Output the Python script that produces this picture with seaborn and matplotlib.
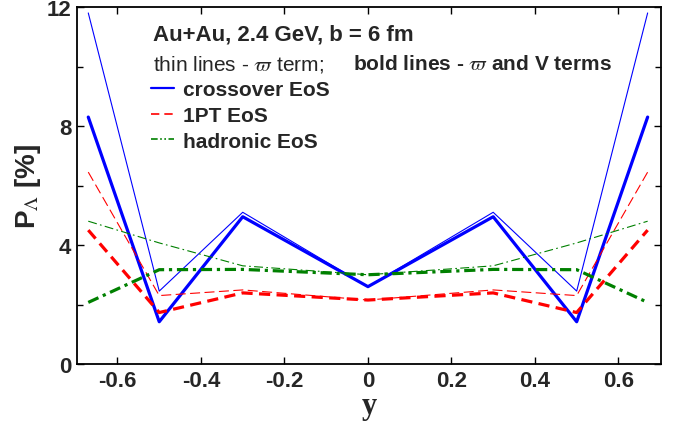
import numpy as np
import pandas as pd
import matplotlib
matplotlib.use("Agg")
import matplotlib.pyplot as plt
from matplotlib.lines import Line2D
from matplotlib.ticker import MultipleLocator
import seaborn as sns

# ---- data ----
y_rap = [-0.67, -0.5, -0.3, 0.0, 0.3, 0.5, 0.67]

cross_bold = [8.3, 1.42, 4.95, 2.6, 4.95, 1.42, 8.3]
cross_thin = [11.8, 2.45, 5.1, 2.6, 5.1, 2.45, 11.8]
pt1_bold = [4.5, 1.73, 2.39, 2.15, 2.39, 1.73, 4.5]
pt1_thin = [6.45, 2.3, 2.49, 2.15, 2.49, 2.3, 6.45]
had_bold = [2.07, 3.17, 3.18, 3.0, 3.18, 3.17, 2.07]
had_thin = [4.8, 4.07, 3.3, 3.0, 3.3, 4.07, 4.8]

xticks = [-0.6, -0.4, -0.2, 0, 0.2, 0.4, 0.6]
xticklabels = ["-0.6", "-0.4", "-0.2", "0", "0.2", "0.4", "0.6"]
yticks = [0, 4, 8, 12]
yticklabels = ["0", "4", "8", "12"]

legend_labels = ["crossover EoS", "1PT EoS", "hadronic EoS"]

sns.set_theme(style="ticks")
plt.rcParams["font.family"] = ["Liberation Sans", "DejaVu Sans"]
plt.rcParams["mathtext.fontset"] = "stix"

fig = plt.figure(figsize=(6.81, 4.27), dpi=100)
ax = fig.add_axes([77/681, 1-365/427, (661-77)/681, (365-8)/427])

BLUE = "#0000ff"
RED = "#ff0000"
GREEN = "#008000"

series = [
    (cross_thin, BLUE, 0.8, "-"),
    (cross_bold, BLUE, 2.3, "-"),
    (pt1_thin, RED, 0.8, (0, (9, 4))),
    (pt1_bold, RED, 2.3, (0, (3.5, 2))),
    (had_thin, GREEN, 0.8, (0, (8, 3, 1.5, 3))),
    (had_bold, GREEN, 2.3, (0, (3.5, 1.5, 1, 1.5))),
]
for vals, col, lw, ls in series:
    df = pd.DataFrame({"y": y_rap, "P": vals})
    sns.lineplot(data=df, x="y", y="P", ax=ax, color=col, lw=lw,
                 linestyle=ls, sort=False, legend=False)

ax.set_xlim(-0.697, 0.702)
ax.set_ylim(0, 12)
ax.set_xticks(xticks)
ax.set_xticklabels(xticklabels, fontsize=16, fontweight="bold")
ax.set_yticks(yticks)
ax.set_yticklabels(yticklabels, fontsize=16, fontweight="bold")
ax.yaxis.set_minor_locator(MultipleLocator(2))
ax.tick_params(which="both", direction="in", top=True, right=True,
               width=1.0, color="black")
ax.tick_params(which="major", length=5, pad=4)
ax.tick_params(which="minor", length=4)
for s in ax.spines.values():
    s.set_visible(True)
    s.set_linewidth(1.3)
    s.set_color("black")

ax.set_xlabel("y", fontsize=22, fontweight="bold", family="Liberation Serif",
              labelpad=0)
ax.set_ylabel(r"P$_{\Lambda}$ [%]", fontsize=20, fontweight="bold", labelpad=3)

# annotations
fig.text(153/681, 1-35/427, "Au+Au, 2.4 GeV, b = 6 fm", fontsize=16,
         fontweight="bold", va="center", ha="left")
fig.text(153/681, 1-65/427, r"thin lines - $\varpi$ term;", fontsize=15,
         va="center", ha="left")
fig.text(353/681, 1-65/427, r"bold lines - $\varpi$ and V terms", fontsize=15,
         fontweight="bold", va="center", ha="left")

handles = [
    Line2D([], [], color=BLUE, lw=1.6, linestyle="-"),
    Line2D([], [], color=RED, lw=1.2, linestyle=(0, (5, 3))),
    Line2D([], [], color=GREEN, lw=1.2, linestyle=(0, (4, 1.5, 1, 1.5, 1, 1.5))),
]
leg = fig.legend(handles, legend_labels, loc="upper left",
                 bbox_to_anchor=(151/681, 1-81/427), frameon=False,
                 prop={"weight": "bold", "size": 15}, handlelength=1.1,
                 handletextpad=0.45, labelspacing=0.33, borderpad=0,
                 borderaxespad=0)

fig.savefig("out.png", dpi=100)
